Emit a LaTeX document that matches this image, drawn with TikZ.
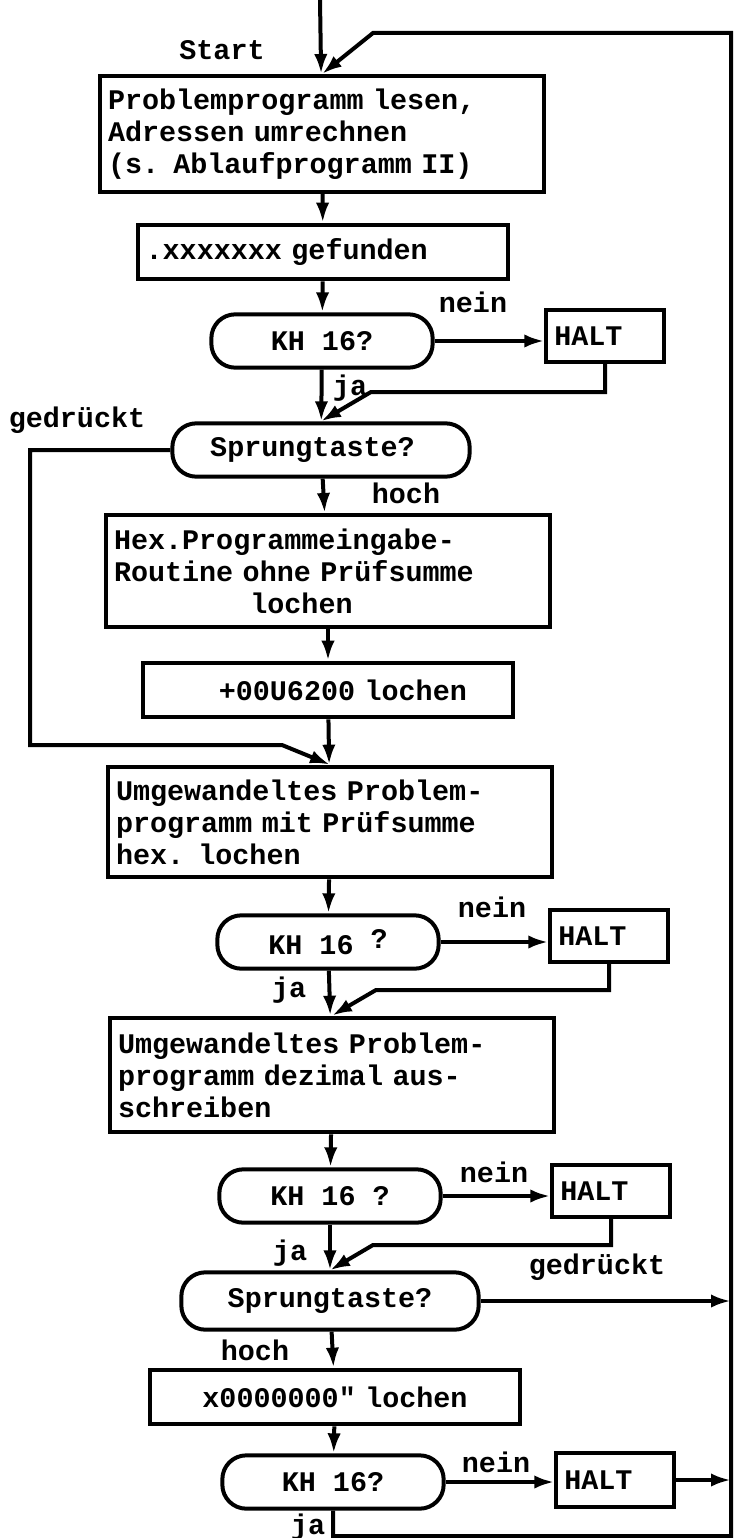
\documentclass[tikz,border=0pt]{standalone}
\usepackage{fontspec}
\setmonofont{Liberation Mono}
\usepackage{tikz}
\usetikzlibrary{arrows.meta}

\begin{document}
\begin{tikzpicture}[x=0.75pt,y=0.75pt,yscale=-1,xscale=1,
  line width=3pt,
  every node/.style={font=\ttfamily\bfseries\fontsize{21.3}{24}\selectfont},
  flow/.style={-{Latex[length=15pt,width=10pt]}},
  widebox/.style={draw,rectangle,inner xsep=6pt,text width=321pt,minimum height=85pt,align=left},
  midbox/.style={draw,rectangle,inner xsep=6pt,text width=266pt,minimum height=41pt,align=left},
  haltbox/.style={draw,rectangle,inner xsep=6pt,text width=76pt,minimum height=39pt,align=left},
  term/.style={draw,rectangle,rounded corners=18pt,minimum width=166pt,minimum height=40pt},
  sprungterm/.style={term,minimum width=223pt}
  ]

\useasboundingbox (0,0) rectangle (736,1538);

\coordinate (entry) at (320,0);
\coordinate (topbend) at (373,33);
\coordinate (topright) at (731,33);
\coordinate (botright) at (731,1536);
\coordinate (ret1) at (371,392);
\coordinate (ret2) at (376,990);
\coordinate (ret3) at (373,1245);
\coordinate (skipcorner) at (30,745);
\coordinate (skipbend) at (282,745);

\draw (322,134) node (read) [widebox,minimum height=87pt] {Problemprogramm lesen,\\Adressen umrechnen\\(s. Ablaufprogramm II)};

\draw (323,252) node (found) [midbox] {.xxxxxxx gefunden};

\draw (322,341) node (kh1) [term] {KH 16?};

\draw (605,336) node (halt1) [haltbox] {HALT};

\draw (321,450) node (sprung1) [sprungterm] {Sprungtaste?\phantom{0}};

\draw (328,571) node (hex) [widebox,minimum height=84pt] {Hex.Programmeingabe-\\Routine ohne Prüfsumme\\\phantom{xxxxxxxx}lochen};

\draw (328,690) node (plus) [midbox] {\phantom{xxxx}+00U6200 lochen};

\draw (330,822) node (umg1) [widebox,minimum height=83pt] {Umgewandeltes Problem-\\programm mit Prüfsumme\\hex. lochen};

\draw (328,942) node (kh2) [term] {KH 16 \raisebox{5pt}{?}};

\draw (609,936) node (halt2) [haltbox] {HALT};

\draw (332,1075) node (umg2) [widebox,minimum height=86pt] {Umgewandeltes Problem-\\programm dezimal aus-\\schreiben};

\draw (330,1196) node (kh3) [term] {KH 16 ?};

\draw (611,1191) node (halt3) [haltbox] {HALT};

\draw (330,1301) node (sprung2) [sprungterm,minimum height=43pt] {Sprungtaste?};

\draw (335,1397) node (xbox) [midbox,align=center] {x0000000" lochen};

\draw (333,1482) node (kh4) [term] {KH 16?};

\draw (615,1480) node (halt4) [haltbox,minimum height=41pt] {HALT};


\draw (222,50) node (lstart) {Start};

\draw (473,302) node (lnein1) {nein};

\draw (350,388) node (lja1) {ja};

\draw (77,420) node (lgedr1) {gedrückt};

\draw (406,493) node (lhoch1) {hoch};

\draw (492,907) node (lnein2) {nein};

\draw (289,990) node (lja2) {ja};

\draw (494,1172) node (lnein3) {nein};

\draw (290,1253) node (lja3) {ja};

\draw (597,1267) node (lgedr2) {gedrückt};

\draw (255,1350) node (lhoch2) {hoch};

\draw (496,1462) node (lnein4) {nein};

\draw (308,1527) node (lja4) {ja};


\draw[flow] (entry) -- (read);

\draw[flow] (kh4.south) |- (botright) -- (topright) -- (topbend) -- (read.north);

\draw[flow] (read) -- (found);

\draw[flow] (found) -- (kh1);

\draw[flow] (kh1.east) -- (kh1.east -| halt1.west);

\draw[flow] (halt1.south) |- (ret1) -- (sprung1.north);

\draw[flow] (kh1) -- (sprung1);

\draw[flow] (sprung1.west) -| (skipcorner) -- (skipbend) -- (umg1.north);

\draw[flow] (sprung1) -- (hex);

\draw[flow] (hex) -- (plus);

\draw[flow] (plus) -- (umg1);

\draw[flow] (umg1) -- (kh2);

\draw[flow] (kh2.east) -- (kh2.east -| halt2.west);

\draw[flow] (halt2.south) |- (ret2) -- (umg2.north);

\draw[flow] (kh2) -- (umg2);

\draw[flow] (umg2) -- (kh3);

\draw[flow] (kh3.east) -- (kh3.east -| halt3.west);

\draw[flow] (halt3.south) |- (ret3) -- (sprung2.north);

\draw[flow] (kh3) -- (sprung2);

\draw[flow] (sprung2.east) -- (sprung2.east -| botright);

\draw[flow] (sprung2) -- (xbox);

\draw[flow] (xbox) -- (kh4);

\draw[flow] (kh4.east) -- (kh4.east -| halt4.west);

\draw[flow] (halt4.east) -- (halt4.east -| botright);

\end{tikzpicture}
\end{document}
